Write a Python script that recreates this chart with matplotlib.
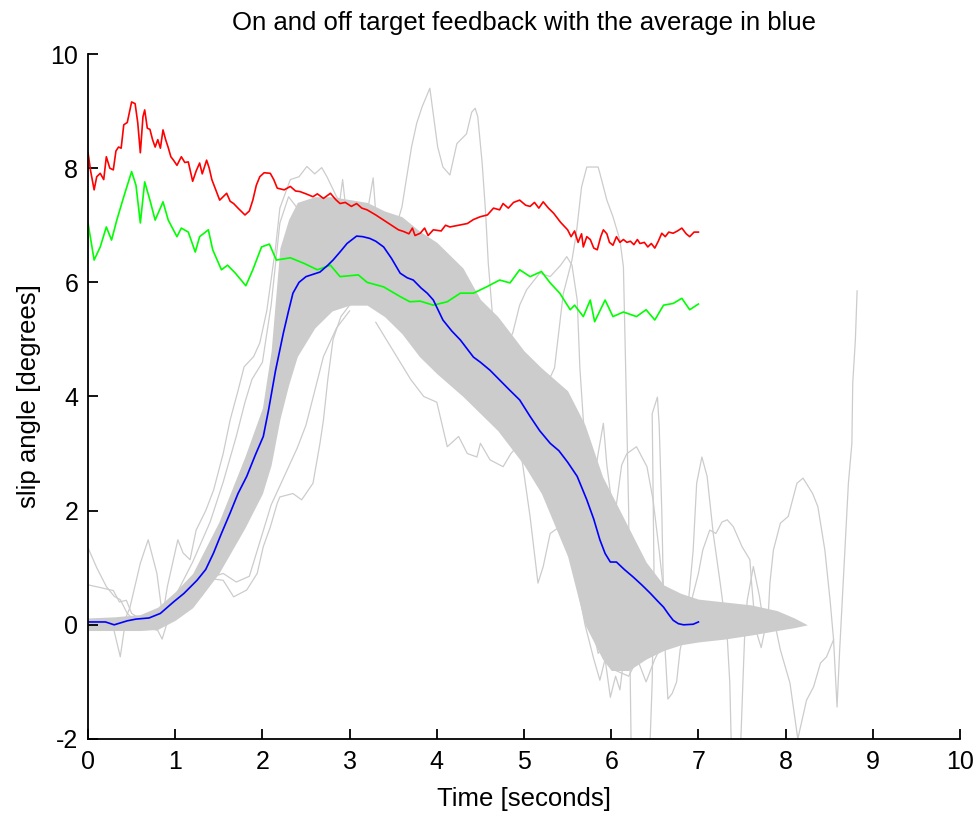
import matplotlib
matplotlib.use("Agg")
import matplotlib.pyplot as plt
import numpy as np

plt.rcParams['font.family'] = ['Liberation Sans', 'DejaVu Sans']
plt.rcParams['axes.unicode_minus'] = False

# average slip angle (blue)
avg_t = [0, 0.2, 0.3, 0.45, 0.55, 0.7, 0.83, 0.98, 1.1, 1.25, 1.35, 1.44, 1.53, 1.63,
         1.72, 1.82, 1.92, 2.01, 2.07, 2.15, 2.24, 2.3, 2.35, 2.42, 2.5, 2.6, 2.66, 2.75,
         2.81, 2.9, 2.97, 3.08, 3.15, 3.23, 3.3, 3.39, 3.48, 3.58, 3.66, 3.73, 3.82, 3.89,
         3.96, 4.07, 4.17, 4.27, 4.35, 4.42, 4.5, 4.61, 4.72, 4.83, 4.95, 5.07, 5.18, 5.3,
         5.4, 5.5, 5.61, 5.72, 5.8, 5.87, 5.93, 5.99, 6.06, 6.15, 6.25, 6.35, 6.45, 6.53,
         6.6, 6.66, 6.71, 6.77, 6.83, 6.94, 7.0]
avg_y = [0.05, 0.05, 0.0, 0.07, 0.1, 0.12, 0.2, 0.4, 0.55, 0.78, 0.97, 1.26, 1.6, 1.96,
         2.3, 2.6, 2.98, 3.3, 3.76, 4.45, 5.11, 5.5, 5.81, 6.0, 6.1, 6.15, 6.18, 6.3,
         6.39, 6.55, 6.68, 6.81, 6.8, 6.77, 6.72, 6.62, 6.42, 6.16, 6.08, 6.04, 5.9, 5.81,
         5.69, 5.34, 5.15, 4.99, 4.83, 4.69, 4.6, 4.46, 4.29, 4.12, 3.94, 3.65, 3.4, 3.18,
         3.05, 2.85, 2.6, 2.19, 1.85, 1.49, 1.25, 1.1, 1.1, 0.97, 0.84, 0.7, 0.55, 0.42,
         0.31, 0.18, 0.08, 0.02, 0.0, 0.01, 0.05]

# off target (red)
red_t = [0, 0.03, 0.07, 0.1, 0.14, 0.18, 0.21, 0.25, 0.29, 0.32, 0.35, 0.38, 0.41, 0.45,
         0.5, 0.54, 0.57, 0.6, 0.63, 0.65, 0.68, 0.71, 0.74, 0.77, 0.8, 0.83, 0.86, 0.89,
         0.92, 0.95, 0.98, 1.02, 1.07, 1.11, 1.15, 1.2, 1.24, 1.28, 1.31, 1.36, 1.39, 1.42,
         1.47, 1.51, 1.55, 1.59, 1.63, 1.67, 1.72, 1.8, 1.85, 1.89, 1.93, 1.97, 2.02, 2.09,
         2.13, 2.17, 2.25, 2.32, 2.38, 2.43, 2.5, 2.58, 2.63, 2.7, 2.78, 2.84, 2.89, 2.95,
         3.02, 3.08, 3.14, 3.2, 3.3, 3.39, 3.5, 3.56, 3.62, 3.68, 3.72, 3.75, 3.81, 3.86,
         3.9, 3.96, 4.05, 4.1, 4.15, 4.25, 4.35, 4.42, 4.5, 4.58, 4.65, 4.72, 4.76, 4.82,
         4.88, 4.95, 5.02, 5.07, 5.12, 5.17, 5.22, 5.28, 5.34, 5.42, 5.5, 5.54, 5.58, 5.62,
         5.66, 5.68, 5.72, 5.76, 5.8, 5.84, 5.88, 5.91, 5.95, 5.98, 6.02, 6.06, 6.1, 6.14,
         6.18, 6.22, 6.26, 6.3, 6.33, 6.38, 6.42, 6.46, 6.5, 6.54, 6.58, 6.62, 6.66, 6.71,
         6.76, 6.81, 6.86, 6.9, 6.95, 7.0]
red_y = [8.27, 7.95, 7.62, 7.85, 7.91, 7.8, 8.2, 8.0, 7.97, 8.3, 8.37, 8.35, 8.76, 8.8,
         9.16, 9.13, 8.8, 8.27, 8.9, 9.02, 8.7, 8.68, 8.5, 8.37, 8.5, 8.35, 8.67, 8.5,
         8.36, 8.2, 8.14, 8.05, 8.2, 8.1, 8.11, 7.77, 7.95, 8.09, 7.9, 8.14, 8.0, 7.8,
         7.6, 7.44, 7.5, 7.56, 7.42, 7.38, 7.3, 7.18, 7.25, 7.44, 7.7, 7.85, 7.92, 7.91,
         7.8, 7.65, 7.62, 7.68, 7.6, 7.59, 7.55, 7.5, 7.55, 7.47, 7.56, 7.45, 7.38, 7.4,
         7.33, 7.38, 7.3, 7.27, 7.18, 7.09, 6.98, 6.92, 6.89, 6.85, 6.95, 6.82, 6.86, 6.95,
         6.82, 6.92, 6.9, 7.0, 6.97, 7.0, 7.03, 7.1, 7.15, 7.18, 7.3, 7.27, 7.38, 7.3,
         7.4, 7.44, 7.35, 7.33, 7.4, 7.3, 7.41, 7.3, 7.21, 7.05, 6.92, 6.8, 6.9, 6.7,
         6.85, 6.62, 6.8, 6.75, 6.6, 6.57, 6.8, 6.92, 6.85, 6.7, 6.65, 6.8, 6.7, 6.75,
         6.7, 6.72, 6.66, 6.75, 6.68, 6.7, 6.62, 6.68, 6.6, 6.72, 6.86, 6.8, 6.88, 6.86,
         6.9, 6.95, 6.85, 6.8, 6.88, 6.88]

# on target (green)
green_t = [0, 0.07, 0.14, 0.21, 0.27, 0.33, 0.41, 0.5, 0.55, 0.6, 0.65, 0.71, 0.77, 0.86,
           0.92, 1.02, 1.07, 1.15, 1.23, 1.28, 1.38, 1.43, 1.53, 1.6, 1.69, 1.81, 1.89,
           1.99, 2.08, 2.16, 2.32, 2.48, 2.63, 2.78, 2.89, 3.1, 3.2, 3.39, 3.58, 3.69,
           3.81, 3.96, 4.12, 4.27, 4.42, 4.57, 4.72, 4.84, 4.95, 5.07, 5.2, 5.3, 5.41,
           5.53, 5.58, 5.68, 5.76, 5.81, 5.93, 6.02, 6.14, 6.29, 6.4, 6.5, 6.6, 6.71,
           6.81, 6.9, 7.0]
green_y = [7.04, 6.39, 6.62, 6.97, 6.74, 7.09, 7.5, 7.94, 7.7, 7.04, 7.76, 7.44, 7.09, 7.41,
           7.09, 6.8, 6.95, 6.88, 6.53, 6.8, 6.92, 6.57, 6.22, 6.3, 6.16, 5.94, 6.22,
           6.62, 6.67, 6.39, 6.43, 6.33, 6.22, 6.3, 6.1, 6.13, 6.0, 5.92, 5.75, 5.66,
           5.67, 5.6, 5.66, 5.81, 5.81, 5.92, 6.04, 5.99, 6.22, 6.1, 6.19, 5.99, 5.81,
           5.52, 5.6, 5.4, 5.69, 5.31, 5.69, 5.4, 5.48, 5.4, 5.52, 5.34, 5.6, 5.63,
           5.72, 5.52, 5.62]

# dense core of the individual runs (grey band)
band_t = [0.0, 0.3, 0.6, 0.8, 1.0, 1.2, 1.5, 1.8, 2.0, 2.1, 2.2, 2.3, 2.4, 2.6, 2.8, 3.0,
          3.2, 3.4, 3.6, 3.8, 4.0, 4.3, 4.5, 4.7, 5.0, 5.2, 5.5, 5.7, 5.9, 6.0, 6.2, 6.4,
          6.6, 6.8, 7.0, 7.3, 7.6, 7.9, 8.1, 8.25]
band_hi = [0.12, 0.14, 0.18, 0.31, 0.58, 0.9, 1.8, 2.95, 3.8, 4.8, 6.6, 7.1, 7.4, 7.5, 7.5,
           7.45, 7.4, 7.25, 7.15, 6.9, 6.7, 6.25, 5.7, 5.4, 4.8, 4.5, 4.1, 3.5, 2.6, 2.3,
           1.7, 1.1, 0.7, 0.55, 0.45, 0.4, 0.35, 0.25, 0.12, 0.0]
band_lo = [-0.1, -0.1, -0.1, -0.08, 0.08, 0.3, 0.9, 1.7, 2.3, 2.8, 3.6, 4.2, 4.7, 5.2, 5.5,
           5.6, 5.6, 5.4, 5.1, 4.7, 4.4, 4.0, 3.7, 3.4, 2.8, 2.3, 1.2, 0.0, -0.6, -0.8,
           -0.8, -0.6, -0.45, -0.35, -0.3, -0.25, -0.18, -0.1, -0.05, 0.0]

# individual runs that leave the band, as (time, angle) pairs
runs = [
    [(0, 1.35), (0.1, 1.0), (0.21, 0.67), (0.3, 0.5), (0.37, 0.44), (0.45, 0.2), (0.55, 0.05), (0.7, 0.0)],
    [(0, 0.7), (0.15, 0.65), (0.29, 0.6), (0.36, 0.4), (0.44, 0.43), (0.5, 0.2), (0.6, 0.1)],
    [(0, 0.0), (0.2, 0.05), (0.27, 0.08), (0.37, -0.56), (0.42, -0.03), (0.6, 0.0), (0.8, -0.1),
     (0.85, -0.25), (0.9, 0.0)],
    [(0.4, 0.0), (0.48, 0.3), (0.6, 1.08), (0.69, 1.49), (0.79, 0.9), (0.85, 0.2), (0.95, 0.1)],
    [(0.85, 0.1), (0.91, 0.67), (1.03, 1.49), (1.09, 1.26), (1.17, 1.14), (1.24, 1.66), (1.35, 2.0),
     (1.44, 2.36), (1.55, 3.0), (1.63, 3.59), (1.72, 4.1), (1.79, 4.52), (1.9, 4.7), (1.97, 4.94),
     (2.05, 5.5), (2.15, 6.6), (2.2, 7.3), (2.32, 7.8), (2.42, 7.85), (2.51, 8.03), (2.6, 7.9),
     (2.68, 8.01), (2.74, 7.85), (2.85, 7.5), (2.95, 7.3), (3.1, 7.1), (3.3, 6.9)],
    [(1.0, 0.5), (1.2, 1.1), (1.4, 1.8), (1.55, 2.5), (1.7, 3.3), (1.8, 3.9), (1.88, 4.3), (2.0, 4.6),
     (2.1, 5.6), (2.2, 7.04), (2.3, 7.5), (2.4, 7.3), (2.55, 7.4), (2.7, 7.2)],
    [(1.2, 0.4), (1.35, 0.7), (1.45, 0.8), (1.55, 0.78), (1.67, 0.49), (1.82, 0.61), (1.94, 0.9),
     (2.01, 1.37), (2.09, 1.71), (2.17, 2.13), (2.2, 2.24), (2.35, 2.3), (2.45, 2.19), (2.58, 2.48),
     (2.66, 3.18), (2.7, 3.59), (2.75, 4.3), (2.81, 5.0), (2.9, 5.4), (3.0, 5.6), (3.2, 5.7), (3.35, 5.5)],
    [(1.3, 0.5), (1.45, 0.85), (1.55, 0.9), (1.7, 0.75), (1.85, 0.85), (2.0, 1.6), (2.1, 2.1),
     (2.25, 2.6), (2.4, 3.1), (2.5, 3.5), (2.6, 4.1), (2.7, 4.7), (2.85, 5.2), (3.0, 5.5)],
    [(2.85, 7.0), (2.92, 7.8), (2.97, 7.1)],
    [(3.2, 7.2), (3.27, 7.83), (3.3, 7.2)],
    [(3.3, 5.3), (3.5, 4.8), (3.7, 4.3), (3.85, 4.0), (4.0, 3.9), (4.12, 3.12), (4.25, 3.3), (4.35, 3.0),
     (4.46, 2.94), (4.5, 3.18), (4.61, 2.89), (4.76, 2.77), (4.85, 3.0), (4.95, 3.18), (5.07, 1.89),
     (5.16, 0.73), (5.22, 1.02), (5.3, 1.6), (5.41, 1.72), (5.5, 1.4), (5.6, 1.0), (5.7, 0.3)],
    [(3.4, 6.5), (3.5, 6.8), (3.6, 7.32), (3.65, 7.8), (3.71, 8.37), (3.77, 8.79), (3.83, 9.07),
     (3.92, 9.4), (4.01, 8.37), (4.07, 8.02), (4.15, 7.88), (4.23, 8.43), (4.34, 8.6), (4.4, 8.98),
     (4.44, 9.05), (4.47, 8.9), (4.52, 8.09), (4.56, 7.21), (4.59, 6.34), (4.65, 5.2), (4.72, 4.8)],
    [(4.8, 4.9), (4.87, 5.11), (4.95, 5.6), (5.03, 5.87), (5.18, 6.16), (5.3, 6.1), (5.42, 6.3),
     (5.49, 6.45), (5.55, 6.3), (5.61, 5.69), (5.64, 4.52), (5.68, 3.59), (5.72, 3.06), (5.8, 2.5)],
    [(5.2, 4.0), (5.35, 4.5), (5.45, 5.8), (5.55, 6.39), (5.6, 6.86), (5.66, 7.67), (5.72, 8.02),
     (5.85, 8.02), (5.87, 7.91), (5.95, 7.44), (6.02, 7.15), (6.1, 6.74), (6.14, 6.27), (6.17, 4.2),
     (6.2, 2.0), (6.21, 0.0), (6.23, -2.3)],
    [(6.44, -2.3), (6.47, -1.0), (6.49, 1.0), (6.47, 3.7), (6.53, 3.99), (6.55, 3.5), (6.58, 2.0),
     (6.6, 0.5), (6.62, -0.5), (6.65, -1.3), (6.7, -1.2), (6.75, -1.0), (6.79, -0.44), (6.87, 0.14),
     (6.94, 1.31), (6.98, 2.48), (7.04, 2.94), (7.1, 2.6), (7.17, 1.6), (7.25, 0.73), (7.33, -0.2),
     (7.36, -1.02), (7.38, -2.3)],
    [(6.9, 0.3), (7.0, 0.9), (7.05, 1.31), (7.13, 1.66), (7.2, 1.6), (7.27, 1.8), (7.33, 1.84),
     (7.4, 1.72), (7.5, 1.37), (7.59, 1.14), (7.61, 0.73), (7.64, 0.2), (7.67, -0.15), (7.72, -0.4),
     (7.76, -0.1)],
    [(7.48, -2.3), (7.51, -1.02), (7.53, -0.2), (7.56, 0.43), (7.63, 1.02), (7.7, 0.5), (7.75, 0.0)],
    [(7.8, 0.14), (7.82, 0.73), (7.86, 1.31), (7.94, 1.78), (8.03, 1.9), (8.13, 2.48), (8.2, 2.57),
     (8.31, 2.3), (8.37, 2.07), (8.45, 1.31), (8.51, 0.43), (8.55, -0.26), (8.59, -1.44), (8.62, -0.44),
     (8.68, 1.31), (8.72, 2.48), (8.76, 3.18), (8.77, 4.24), (8.8, 4.99), (8.82, 5.85)],
    [(7.6, 0.0), (7.75, 0.1), (7.86, 0.14), (7.94, -0.44), (8.05, -1.02), (8.14, -2.0), (8.24, -1.32),
     (8.32, -1.09), (8.4, -0.67), (8.47, -0.56), (8.55, -0.26)],
    [(5.5, 1.5), (5.6, 0.8), (5.7, 0.0), (5.8, -0.6), (5.87, -0.97), (5.93, -0.6), (5.99, -1.27),
     (6.05, -0.9), (6.1, -1.14), (6.15, -0.5), (6.25, -0.3), (6.4, -0.5), (6.5, -0.2)],
    [(5.6, 1.2), (5.75, 0.2), (5.85, -0.5), (5.95, -0.3), (6.05, -0.8), (6.2, -0.9), (6.3, -0.6),
     (6.4, -1.0), (6.5, -0.6), (6.6, -0.3)],
    [(5.8, 2.5), (5.85, 3.0), (5.91, 3.53), (5.95, 2.8), (6.0, 2.2), (6.1, 1.5)],
    [(6.05, 2.0), (6.12, 2.8), (6.18, 3.0), (6.29, 3.12), (6.41, 2.77), (6.48, 2.19), (6.55, 1.3),
     (6.6, 0.6), (6.7, 0.3)],
]

grey = '#cccccc'

fig = plt.figure(figsize=(9.78, 8.17), dpi=100)
ax = fig.add_axes([0.090, 0.0955, 0.8916, 0.8384])

ax.fill_between(band_t, band_lo, band_hi, color=grey, lw=0, zorder=1)
for run in runs:
    t, y = zip(*run)
    ax.plot(t, y, color=grey, lw=0.9, zorder=1)

ax.plot(red_t, red_y, color='#ff0000', lw=1.2, zorder=3)
ax.plot(green_t, green_y, color='#00ff00', lw=1.2, zorder=3)
ax.plot(avg_t, avg_y, color='#0000ff', lw=1.2, zorder=4)

ax.set_xlim(0, 10)
ax.set_ylim(-2, 10)
ax.set_xticks(np.arange(0, 11, 1))
ax.set_yticks(np.arange(-2, 11, 2))

for s in ['top', 'right']:
    ax.spines[s].set_visible(False)
for s in ['left', 'bottom']:
    ax.spines[s].set_linewidth(1.3)
    ax.spines[s].set_zorder(5)

ax.tick_params(direction='in', length=7, width=1.3, labelsize=18)
ax.tick_params(axis='x', pad=8)
ax.tick_params(axis='y', pad=7)

ax.set_title('On and off target feedback with the average in blue', fontsize=18.5, pad=17)
ax.set_xlabel('Time [seconds]', fontsize=18.5, labelpad=9)
ax.set_ylabel('slip angle [degrees]', fontsize=18.5, labelpad=7)

fig.savefig('out.png', dpi=100)
